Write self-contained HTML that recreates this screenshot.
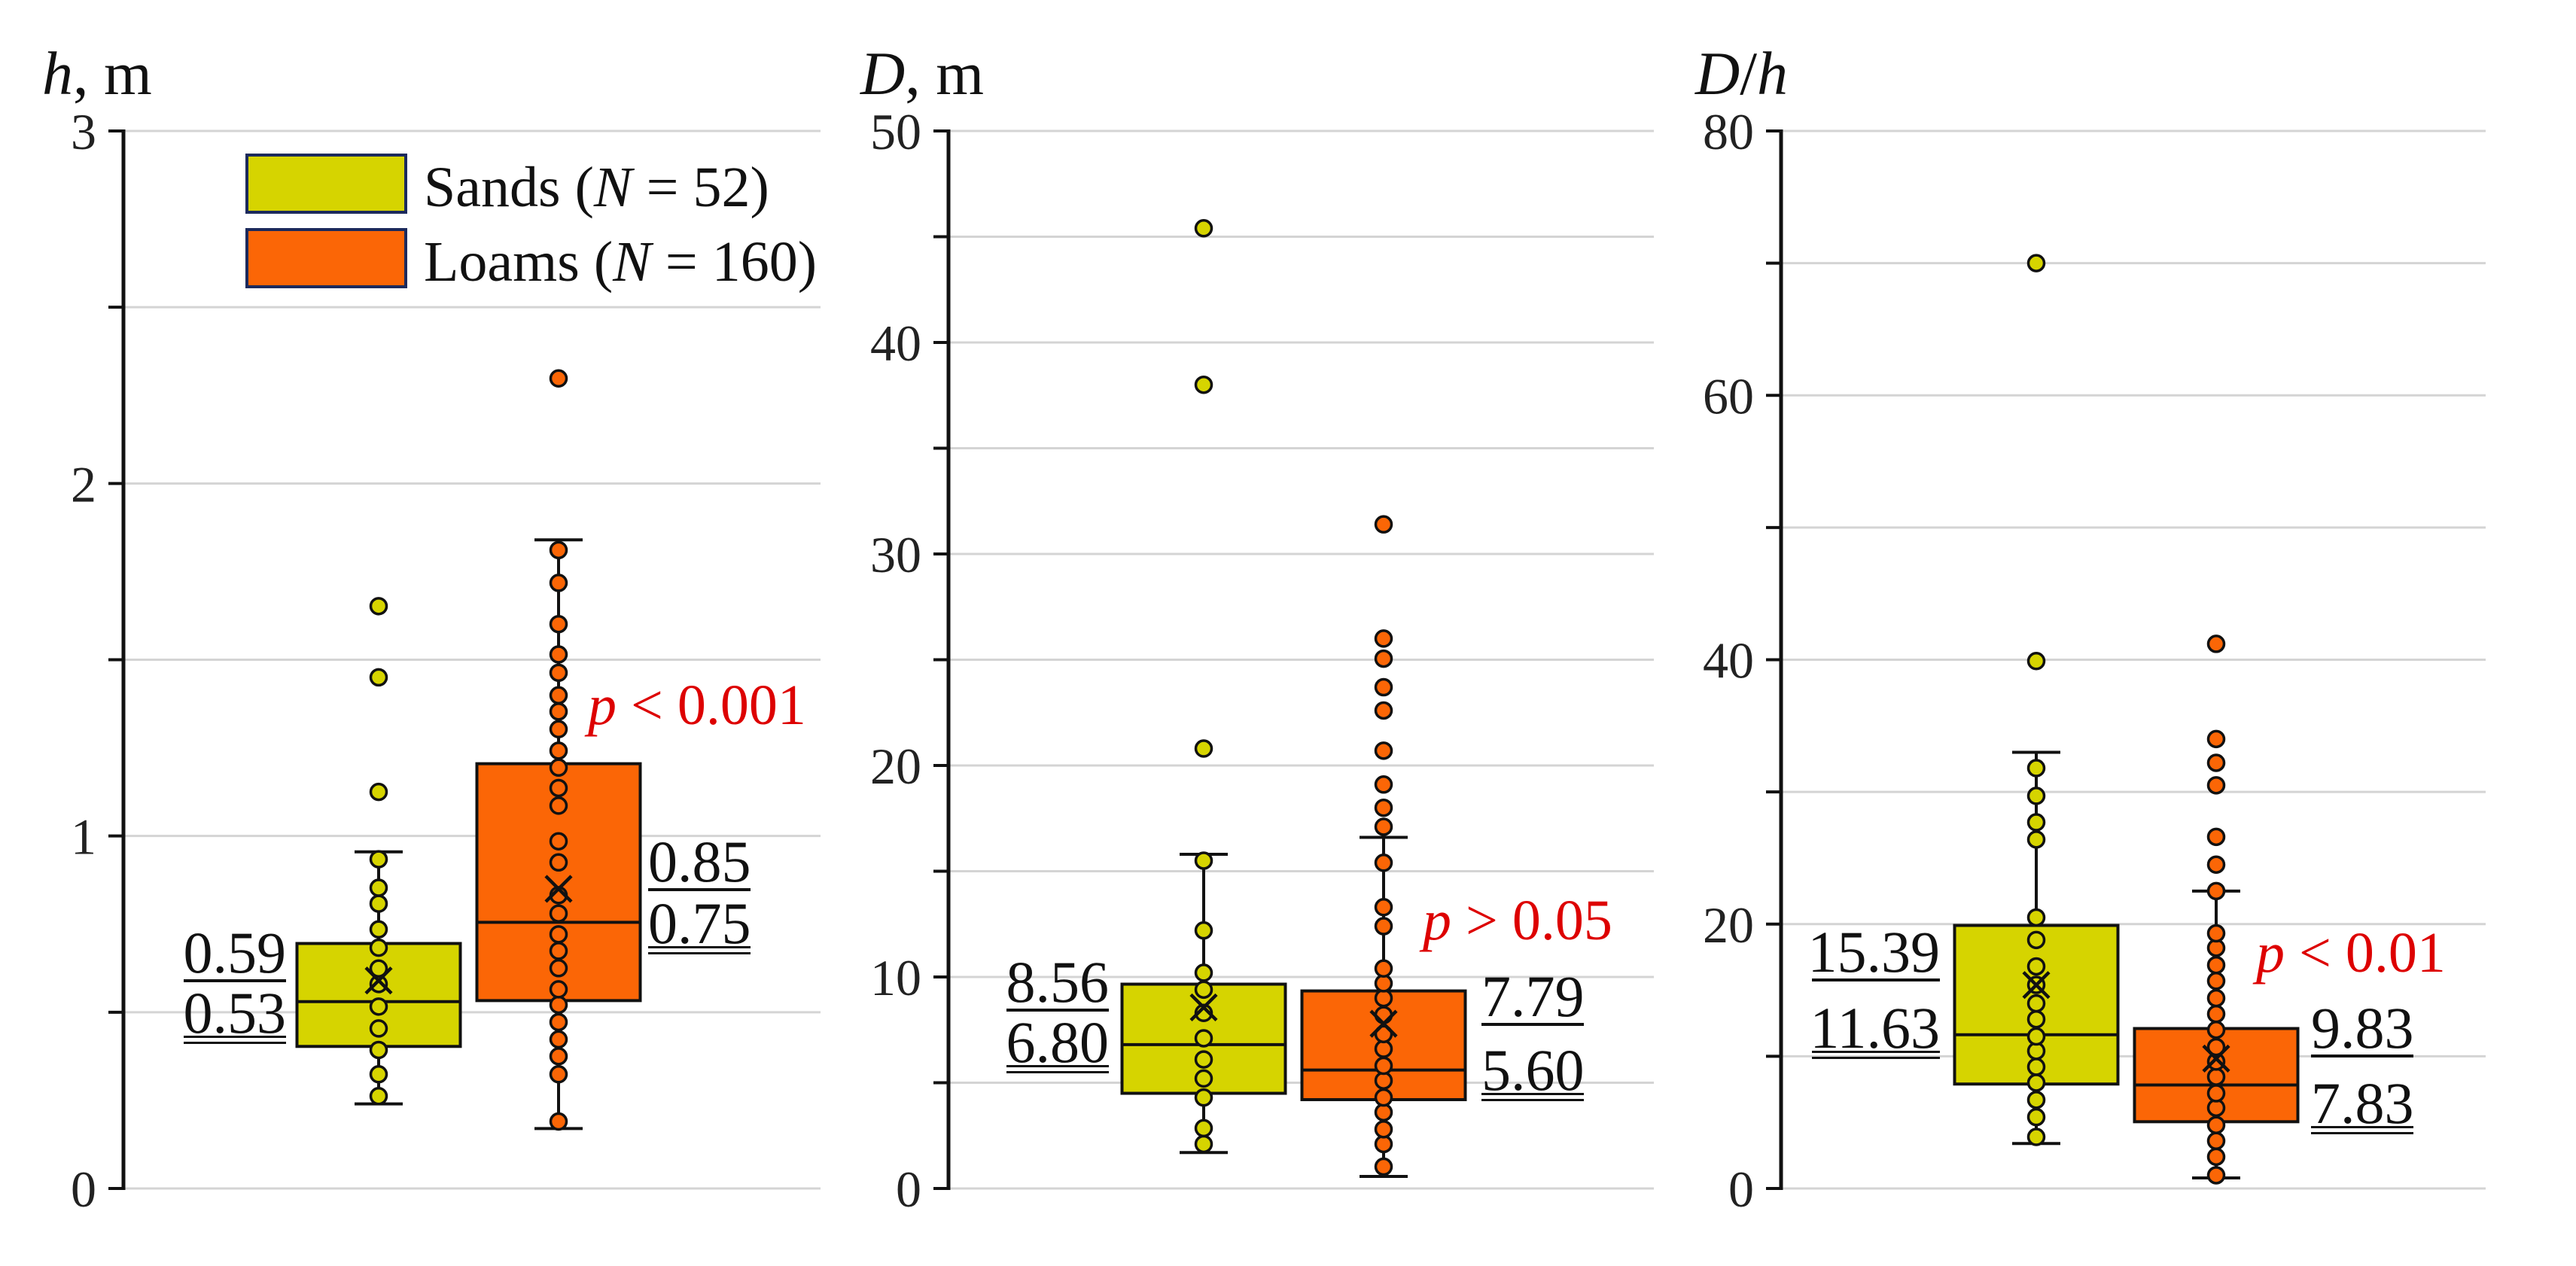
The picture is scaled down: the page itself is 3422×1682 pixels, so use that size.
<!DOCTYPE html>
<html><head><meta charset="utf-8"><style>
html,body{margin:0;padding:0;background:#fff;}
svg{display:block;font-family:"Liberation Serif",serif;}
</style></head><body>
<svg id="chart" width="3422" height="1682" viewBox="0 0 3422 1682" xmlns="http://www.w3.org/2000/svg"></svg>
<script>
// ---- data ----
const groups = ["Sands", "Loams"];
const panelTitles = ["h, m", "D, m", "D/h"];
const panelMax = [3, 50, 80];
const gridSteps = [0.5, 5, 10];
const tickLabels1 = ["0", "1", "2", "3"];
const tickLabels2 = ["0", "10", "20", "30", "40", "50"];
const tickLabels3 = ["0", "20", "40", "60", "80"];
// box stats: [whiskerLow, q1, median, q3, whiskerHigh, mean]
const hSands = [0.24, 0.403, 0.53, 0.695, 0.955, 0.59];
const hLoams = [0.17, 0.533, 0.755, 1.205, 1.84, 0.85];
const dSands = [1.7, 4.5, 6.8, 9.66, 15.8, 8.56];
const dLoams = [0.57, 4.2, 5.6, 9.34, 16.6, 7.79];
const rSands = [3.4, 7.9, 11.63, 19.9, 33.0, 15.39];
const rLoams = [0.8, 5.05, 7.83, 12.1, 22.5, 9.83];
// points
const hSandsPts = [0.262, 0.324, 0.393, 0.454, 0.516, 0.58, 0.624, 0.683, 0.735, 0.808, 0.853, 0.934, 1.125, 1.45, 1.652];
const hLoamsPts = [0.19, 0.324, 0.375, 0.423, 0.472, 0.521, 0.565, 0.625, 0.674, 0.721, 0.78, 0.832, 0.925, 0.985, 1.086, 1.136, 1.194, 1.242, 1.303, 1.353, 1.399, 1.463, 1.515, 1.601, 1.718, 1.811, 2.298];
const dSandsPts = [2.1, 2.85, 4.3, 5.2, 6.1, 7.1, 8.3, 9.4, 10.2, 12.2, 15.5, 20.8, 38.0, 45.4];
const dLoamsPts = [1.03, 2.1, 2.8, 3.6, 4.3, 5.1, 5.8, 6.6, 7.3, 8.2, 9.0, 9.7, 10.4, 12.4, 13.3, 15.4, 17.1, 18.0, 19.1, 20.7, 22.6, 23.7, 25.05, 26.0, 31.4];
const rSandsPts = [3.9, 5.4, 6.7, 8.0, 9.2, 10.4, 11.5, 12.8, 14.0, 15.4, 16.8, 18.8, 20.5, 26.4, 27.7, 29.7, 31.8, 39.9, 70];
const rLoamsPts = [1.0, 2.4, 3.6, 4.8, 6.1, 7.2, 8.45, 9.6, 10.7, 12.0, 13.2, 14.4, 15.7, 16.9, 18.2, 19.3, 22.5, 24.5, 26.6, 30.5, 32.2, 34.0, 41.2];
const meanLabels = [["0.59","0.53","0.85","0.75"],["8.56","6.80","7.79","5.60"],["15.39","11.63","9.83","7.83"]];
const pLabels = ["< 0.001", "> 0.05", "< 0.01"];

// ---- layout ----
const NS = "http://www.w3.org/2000/svg";
const svg = document.getElementById("chart");
const axisX = [164, 1260, 2366];
const rightX = [1090, 2197, 3302];
const Y0 = 1579, YT = 174;
const colors = ["#d6d400", "#fb6606"];
function mk(tag, attrs, parent) {
  const e = document.createElementNS(NS, tag);
  for (const k in attrs) e.setAttribute(k, attrs[k]);
  (parent || svg).appendChild(e);
  return e;
}
const stats = [[hSands, hLoams], [dSands, dLoams], [rSands, rLoams]];
const pts = [[hSandsPts, hLoamsPts], [dSandsPts, dLoamsPts], [rSandsPts, rLoamsPts]];
const ticks = [tickLabels1, tickLabels2, tickLabels3];
// label placement: [leftLabelRightX (sands), rightLabelX (loams), sandsTopBaseline, loamsTopBaseline, pX, pBaseline]
const annPos = [[380, 861, 1292, 1171, 781, 962], [1473, 1968, 1331, 1350, 1890, 1248], [2577, 3070, 1291, 1392, 2997, 1291]];
const annGap = [82, 98, 100];
const annGapL = [80, 80, 101];

for (let p = 0; p < 3; p++) {
  const g = mk("g", {});
  
  
  const yS = v => Y0 - v / panelMax[p] * (Y0 - YT);
  // gridlines
  for (let v = 0; v <= panelMax[p] + 1e-9; v += gridSteps[p]) {
    const y = yS(v);
    const gl = mk("line", {x1: axisX[p], x2: rightX[p], y1: y, y2: y, stroke: "#d4d4d4", "stroke-width": 3}, g);
    
    
    mk("line", {x1: axisX[p] - 20, x2: axisX[p], y1: y, y2: y, stroke: "#111", "stroke-width": 4}, g);
  }
  const ax = mk("line", {x1: axisX[p], x2: axisX[p], y1: YT - 2, y2: Y0 + 2, stroke: "#111", "stroke-width": 5}, g);
  
  
  // tick labels
  const n = ticks[p].length;
  for (let i = 0; i < n; i++) {
    const v = panelMax[p] * i / (n - 1);
    const t = mk("text", {x: axisX[p] - 36, y: yS(v) + 24, "text-anchor": "end", "font-size": 68, fill: "#222"}, g);
    t.textContent = ticks[p][i];
    
    
  }
  // title
  const tt = mk("text", {x: [56, 1143, 2252][p], y: 125, "font-size": 82, fill: "#111"}, g);
  
  
  if (p === 0) tt.innerHTML = '<tspan font-style="italic">h</tspan>, m';
  if (p === 1) tt.innerHTML = '<tspan font-style="italic">D</tspan>, m';
  if (p === 2) tt.innerHTML = '<tspan font-style="italic">D</tspan>/<tspan font-style="italic">h</tspan>';
  // boxes
  for (let k = 0; k < 2; k++) {
    const s = stats[p][k];
    const cx = axisX[p] + (k === 0 ? 339 : 578);
    const bw = 217;
    const bg = mk("g", {}, g);
    
    
    mk("line", {x1: cx, x2: cx, y1: yS(s[0]), y2: yS(s[4]), stroke: "#111", "stroke-width": 4}, bg);
    mk("line", {x1: cx - 32, x2: cx + 32, y1: yS(s[0]), y2: yS(s[0]), stroke: "#111", "stroke-width": 4}, bg);
    mk("line", {x1: cx - 32, x2: cx + 32, y1: yS(s[4]), y2: yS(s[4]), stroke: "#111", "stroke-width": 4}, bg);
    mk("rect", {x: cx - bw / 2, y: yS(s[3]), width: bw, height: yS(s[1]) - yS(s[3]), fill: colors[k], stroke: "#111", "stroke-width": 4}, bg);
    mk("line", {x1: cx - bw / 2, x2: cx + bw / 2, y1: yS(s[2]), y2: yS(s[2]), stroke: "#111", "stroke-width": 4}, bg);
    for (const v of pts[p][k]) {
      const c = mk("circle", {cx: cx, cy: yS(v), r: 10.5, fill: colors[k], stroke: "#111", "stroke-width": 3.5}, bg);
      
      
    }
    const my = yS(s[5]);
    const mx = mk("path", {d: `M${cx-17},${my-17}L${cx+17},${my+17}M${cx-17},${my+17}L${cx+17},${my-17}`, stroke: "#111", "stroke-width": 4.5, fill: "none"}, bg);
    
    
  }
  // annotations
  const a = annPos[p];
  const L = meanLabels[p];
  const mkFrac = (x, anchor, y1, gap, top, bot, nm) => {
    const fg = mk("g", {}, g);
    
    
    const t1 = mk("text", {x: x, y: y1, "text-anchor": anchor, "font-size": 78, fill: "#111"}, fg);
    t1.textContent = top;
    const t2 = mk("text", {x: x, y: y1 + gap, "text-anchor": anchor, "font-size": 78, fill: "#111"}, fg);
    t2.textContent = bot;
    const w = 34 * Math.max(top.length, bot.length) + 0;
    const x0 = anchor === "end" ? x - w : x;
    mk("rect", {x: x0, y: y1 + 9, width: w, height: 4, fill: "#111"}, fg);
    mk("rect", {x: x0, y: y1 + gap + 4, width: w, height: 3, fill: "#111"}, fg);
    mk("rect", {x: x0, y: y1 + gap + 12, width: w, height: 3, fill: "#111"}, fg);
  };
  mkFrac(a[0], "end", a[2], annGapL[p], L[0], L[1], 'sands-mean-median-label');
  mkFrac(a[1], "start", a[3], annGap[p], L[2], L[3], 'loams-mean-median-label');
  const pt = mk("text", {x: a[4], y: a[5], "font-size": 76, fill: "#dd0000"}, g);
  pt.innerHTML = '<tspan font-style="italic">p</tspan> ' + pLabels[p].replace('<', '&lt;').replace('>', '&gt;');
  
  
}
// legend
const lg = mk("g", {});


const legTexts = ['Sands (<tspan font-style="italic">N</tspan> = 52)', 'Loams (<tspan font-style="italic">N</tspan> = 160)'];
for (let k = 0; k < 2; k++) {
  const y = [206, 305][k];
  const e = mk("g", {}, lg);
  
  
  mk("rect", {x: 328, y: y, width: 211, height: 76, fill: colors[k], stroke: "#1c2a5c", "stroke-width": 4}, e);
  const t = mk("text", {x: 563, y: y + 68, "font-size": 76, fill: "#111"}, e);
  t.innerHTML = legTexts[k];
}
</script>
</body></html>
